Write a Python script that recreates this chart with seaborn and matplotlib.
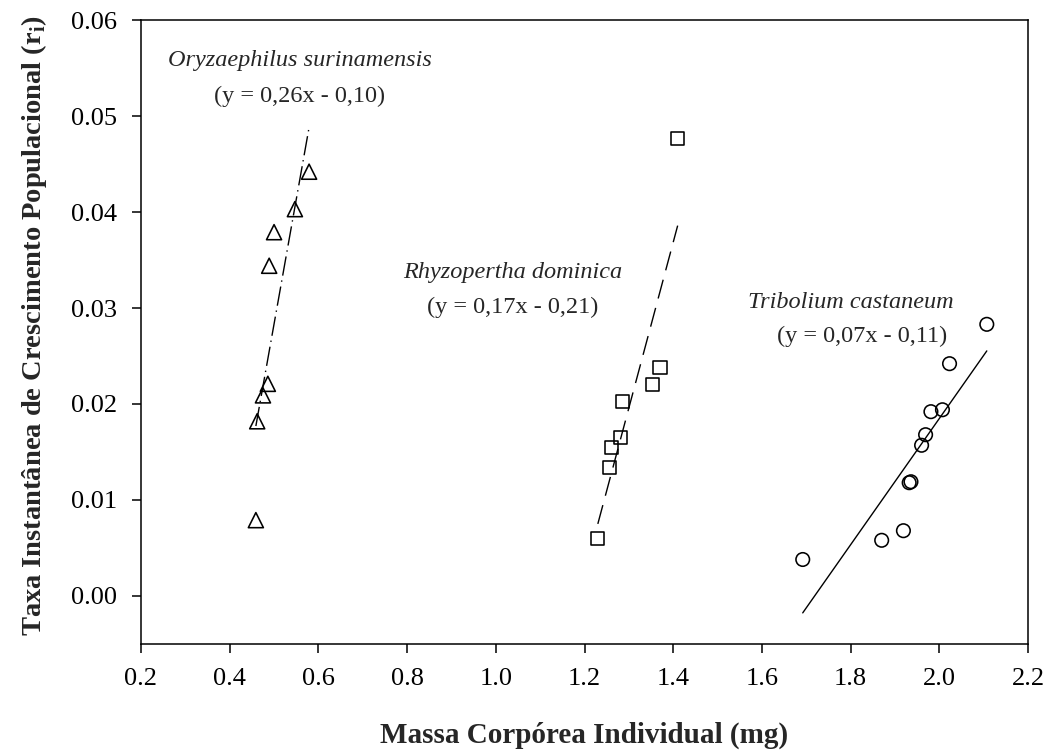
import numpy as np
import matplotlib
matplotlib.use("Agg")
import matplotlib.pyplot as plt
import seaborn as sns

# ---- data ----
oryz_x = [0.579, 0.547, 0.500, 0.489, 0.486, 0.475, 0.462, 0.459]
oryz_y = [0.0442, 0.0403, 0.0379, 0.0344, 0.0221, 0.0209, 0.0182, 0.0079]

rhyz_x = [1.410, 1.370, 1.353, 1.286, 1.282, 1.261, 1.257, 1.230]
rhyz_y = [0.0477, 0.0238, 0.0220, 0.0203, 0.0165, 0.0155, 0.0134, 0.0060]

trib_x = [2.107, 2.023, 2.007, 1.981, 1.969, 1.960, 1.932, 1.936, 1.919, 1.870, 1.692]
trib_y = [0.0283, 0.0242, 0.0194, 0.0192, 0.0168, 0.0157, 0.0118, 0.0119, 0.0068, 0.0058, 0.0038]

species = ["Oryzaephilus surinamensis", "Rhyzopertha dominica", "Tribolium castaneum"]
equations = ["(y = 0,26x - 0,10)", "(y = 0,17x - 0,21)", "(y = 0,07x - 0,11)"]

x_ticks = [0.2, 0.4, 0.6, 0.8, 1.0, 1.2, 1.4, 1.6, 1.8, 2.0, 2.2]
y_ticks = [0.00, 0.01, 0.02, 0.03, 0.04, 0.05, 0.06]

sns.set_style("ticks")
plt.rcParams["font.family"] = ["Liberation Serif", "DejaVu Serif"]
plt.rcParams["mathtext.fontset"] = "custom"
plt.rcParams["mathtext.rm"] = "Liberation Serif"
plt.rcParams["mathtext.bf"] = "Liberation Serif:bold"

fig = plt.figure(figsize=(10.53, 7.53), dpi=100)
ax = fig.add_axes([0.1339, 0.1448, 0.9763 - 0.1339, 0.9734 - 0.1448])

styles = [
    (oryz_x, oryz_y, "^", 118, (0, (14, 3.5, 1, 3.5))),
    (rhyz_x, rhyz_y, "s", 90, (0, (14, 7))),
    (trib_x, trib_y, "o", 95, "-"),
]
for xs, ys, mk, sz, ls in styles:
    sns.regplot(x=np.array(xs), y=np.array(ys), ax=ax, ci=None, truncate=True,
                marker=mk, color="black",
                scatter_kws=dict(s=sz, facecolors="none", edgecolors="black",
                                 linewidths=1.15, alpha=1, zorder=3),
                line_kws=dict(color="black", lw=1.0, linestyle=ls, zorder=2))

ax.set_xlim(0.2, 2.2)
ax.set_ylim(-0.005, 0.06)
ax.set_xticks(x_ticks)
ax.set_xticklabels([f"{v:.1f}" for v in x_ticks])
ax.set_yticks(y_ticks)
ax.set_yticklabels([f"{v:.2f}" for v in y_ticks])
ax.tick_params(axis="both", direction="out", length=6.5, width=1.1,
               labelsize=19, colors="black", pad=10.5)
ax.tick_params(top=False, right=False)
for sp in ax.spines.values():
    sp.set_visible(True)
    sp.set_linewidth(1.1)
    sp.set_color("black")

ax.set_xlabel("Massa Corpórea Individual (mg)", fontsize=21, fontweight="bold")
ax.set_ylabel(r"Taxa Instantânea de Crescimento Populacional (r$_\mathbf{i}$)",
              fontsize=20.5, fontweight="bold")
ax.xaxis.set_label_coords(0.5, -0.125)
ax.yaxis.set_label_coords(-0.104, 0.51)

# annotations
fs = 17.5
ax.text(0.5585, 0.0558, species[0], style="italic", fontsize=fs, ha="center", va="center")
ax.text(0.5585, 0.0520, equations[0], fontsize=fs, ha="center", va="center")
ax.text(1.037, 0.0337, species[1], style="italic", fontsize=fs, ha="center", va="center")
ax.text(1.037, 0.0301, equations[1], fontsize=fs, ha="center", va="center")
ax.text(1.80, 0.0306, species[2], style="italic", fontsize=fs, ha="center", va="center")
ax.text(1.825, 0.0270, equations[2], fontsize=fs, ha="center", va="center")

fig.savefig("out.png", dpi=100, facecolor="white")
